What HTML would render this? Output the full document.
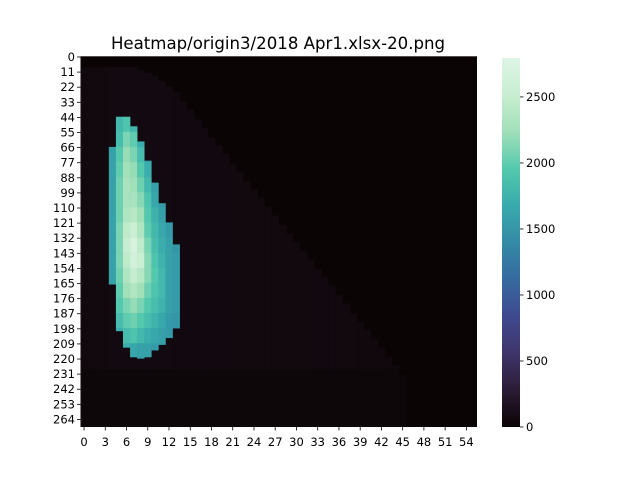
<!DOCTYPE html>
<html><head><meta charset="utf-8"><style>
body{margin:0;background:#fff;font-family:"Liberation Sans","DejaVu Sans",sans-serif;}
svg text{font-family:"DejaVu Sans","Liberation Sans",sans-serif;}
</style></head><body>
<svg id="chart" width="640" height="480">
<rect width="640" height="480" fill="#fff"/>
<text x="278" y="49" text-anchor="middle" font-size="16.6" fill="#000">Heatmap/origin3/2018 Apr1.xlsx-20.png</text>
<g id="cells"></g>
<g id="xaxis"></g>
<g id="yaxis"></g>
<defs><linearGradient id="mako" x1="0" y1="1" x2="0" y2="0"></linearGradient></defs>
<rect x="502" y="58" width="18" height="369" fill="url(#mako)"/>
<g id="cbar"></g>
</svg>
<script>
const nRows = 270, nCols = 56, vmax = 2795;
const xTickLabels = [0,3,6,9,12,15,18,21,24,27,30,33,36,39,42,45,48,51,54];
const yTickLabels = [0,11,22,33,44,55,66,77,88,99,110,121,132,143,154,165,176,187,198,209,220,231,242,253,264];
const cbarTicks = [0,500,1000,1500,2000,2500];
const triTop = [8,8,8,8,8,8,8,8,10,12,14,18,22,26,33,39,46,52,59,65,71,78,84,91,97,103,110,116,123,129,135,142,148,155,161,167,174,180,187,193,199,206,212,219,225,232,270,270,270,270,270,270,270,270,270,270];
const bgVal = [50,55,60,60,65,65,65,65,65,65,65,65,65,62,62,62,62,62,62,62,62,60,60,60,60,60,60,58,58,58,58,58,58,56,56,56,55,55,55,52,52,50,50,45,40,35,0,0,0,0,0,0,0,0,0,0];
const bottomStart = 228, bottomVal = 30;
const blobCols = [4,5,6,7,8,9,10,11,12,13];
const blobStart = [66,44,44,51,62,76,92,107,121,137];
const blobEnd = [165,199,211,218,219,218,213,209,204,197];
const blobC4 = [0,0,0,0,0,0,1600,1600,1600,1600,1600,1600,1600,1600,1600,1600,0,0,0,0,0,0,0,0,0];
const blobC5 = [0,0,0,0,1800,1850,1950,2000,2050,2050,2050,2100,2100,2100,2050,2000,1950,1850,1700,0,0,0,0,0,0];
const blobC6 = [0,0,0,0,1900,2100,2200,2250,2300,2300,2350,2450,2500,2450,2350,2250,2100,2000,1850,1700,0,0,0,0,0];
const blobC7 = [0,0,0,0,1800,2000,2100,2200,2250,2300,2400,2550,2700,2650,2500,2350,2200,2050,1900,1650,0,0,0,0,0];
const blobC8 = [0,0,0,0,0,1700,1850,1950,2050,2150,2250,2350,2450,2550,2400,2250,2100,1950,1800,1600,0,0,0,0,0];
const blobC9 = [0,0,0,0,0,0,1600,1700,1800,1900,1950,2000,2100,2150,2150,2050,1950,1850,1700,1600,0,0,0,0,0];
const blobC10 = [0,0,0,0,0,0,0,0,1600,1650,1750,1800,1850,1900,1950,1900,1850,1750,1650,1550,0,0,0,0,0];
const blobC11 = [0,0,0,0,0,0,0,0,0,1550,1600,1650,1700,1750,1800,1800,1750,1650,1600,1550,0,0,0,0,0];
const blobC12 = [0,0,0,0,0,0,0,0,0,0,0,1550,1600,1600,1600,1600,1600,1550,1550,0,0,0,0,0,0];
const blobC13 = [0,0,0,0,0,0,0,0,0,0,0,0,1500,1550,1550,1550,1550,1500,0,0,0,0,0,0,0];
const blobVals = [blobC4,blobC5,blobC6,blobC7,blobC8,blobC9,blobC10,blobC11,blobC12,blobC13];

const L=80.5, R=477, T=56.3, B=427;
const cw=(R-L)/nCols, rh=(B-T)/nRows;
const xPos = c => L + c*cw;
const yPos = r => T + r*rh;
const stops = [[0,[11,4,5]],[0.1,[43,28,53]],[0.2,[62,53,107]],[0.3,[64,73,142]],[0.4,[54,106,159]],[0.5,[52,138,166]],[0.6,[56,170,172]],[0.7,[84,201,173]],[0.8,[160,223,185]],[0.9,[200,238,208]],[1,[222,245,229]]];
function color(v){
  let t=Math.max(0,Math.min(1,v/vmax));
  for(let i=1;i<stops.length;i++){
    if(t<=stops[i][0]){
      const a=stops[i-1],b=stops[i],f=(t-a[0])/(b[0]-a[0]);
      const c=a[1].map((x,k)=>Math.round(x+(b[1][k]-x)*f));
      return `rgb(${c[0]},${c[1]},${c[2]})`;
    }
  }
  return 'rgb(222,245,229)';
}
const NS='http://www.w3.org/2000/svg';
const cells=document.getElementById('cells');
function rect(x,y,w,h,fill,name){
  const r=document.createElementNS(NS,'rect');
  r.setAttribute('x',x);r.setAttribute('y',y);r.setAttribute('width',w);r.setAttribute('height',h);r.setAttribute('fill',fill);
  
  
  cells.appendChild(r);
}
rect(L,T,R-L,B-T,color(0),'heatmap-background');
for(let c=0;c<nCols;c++){
  const top=Math.min(triTop[c],bottomStart);
  if(bgVal[c]>0 && triTop[c]<nRows){
    rect(xPos(c),yPos(top),cw+0.3,yPos(bottomStart)-yPos(top)+0.3,color(bgVal[c]),'heatmap-cell');
    rect(xPos(c),yPos(Math.max(bottomStart,triTop[c])),cw+0.3,yPos(nRows)-yPos(Math.max(bottomStart,triTop[c])),color(bottomVal),'heatmap-cell');
  }
}
blobCols.forEach((c,k)=>{
  const vals=blobVals[k];
  for(let i=0;i<vals.length;i++){
    const r0=Math.max(i*11,blobStart[k]), r1=Math.min(i*11+11,blobEnd[k]+1);
    if(r1<=r0||vals[i]<=0) continue;
    rect(xPos(c),yPos(r0),cw+0.3,yPos(r1)-yPos(r0)+0.3,color(vals[i]),'heatmap-cell');
  }
});
function line(g,x1,y1,x2,y2,name){
  const l=document.createElementNS(NS,'line');
  l.setAttribute('x1',x1);l.setAttribute('y1',y1);l.setAttribute('x2',x2);l.setAttribute('y2',y2);
  l.setAttribute('stroke','#000');l.setAttribute('stroke-width','0.8');
  
  
  g.appendChild(l);
}
function text(g,x,y,s,anchor,name){
  const t=document.createElementNS(NS,'text');
  t.setAttribute('x',x);t.setAttribute('y',y);t.setAttribute('text-anchor',anchor);
  t.setAttribute('font-size','11.5');t.setAttribute('fill','#000');t.textContent=s;
  
  
  g.appendChild(t);
}
const xg=document.getElementById('xaxis');
xTickLabels.forEach(v=>{const x=xPos(v+0.5);line(xg,x,B,x,B+3.5,'x-tick');text(xg,x,B+19,String(v),'middle','x-tick-label');});
const yg=document.getElementById('yaxis');
yTickLabels.forEach(v=>{const y=yPos(v+0.5);line(yg,L-3.5,y,L,y,'y-tick');text(yg,L-5.5,y+4,String(v),'end','y-tick-label');});
const grad=document.getElementById('mako');
stops.forEach(s=>{const st=document.createElementNS(NS,'stop');st.setAttribute('offset',s[0]);st.setAttribute('stop-color',`rgb(${s[1].join(',')})`);grad.appendChild(st);});
const cg=document.getElementById('cbar');
cbarTicks.forEach(v=>{const y=427-v/vmax*369;line(cg,520,y,523.5,y,'colorbar-tick');text(cg,526,y+4,String(v),'start','colorbar-tick-label');});
</script>
</body></html>
